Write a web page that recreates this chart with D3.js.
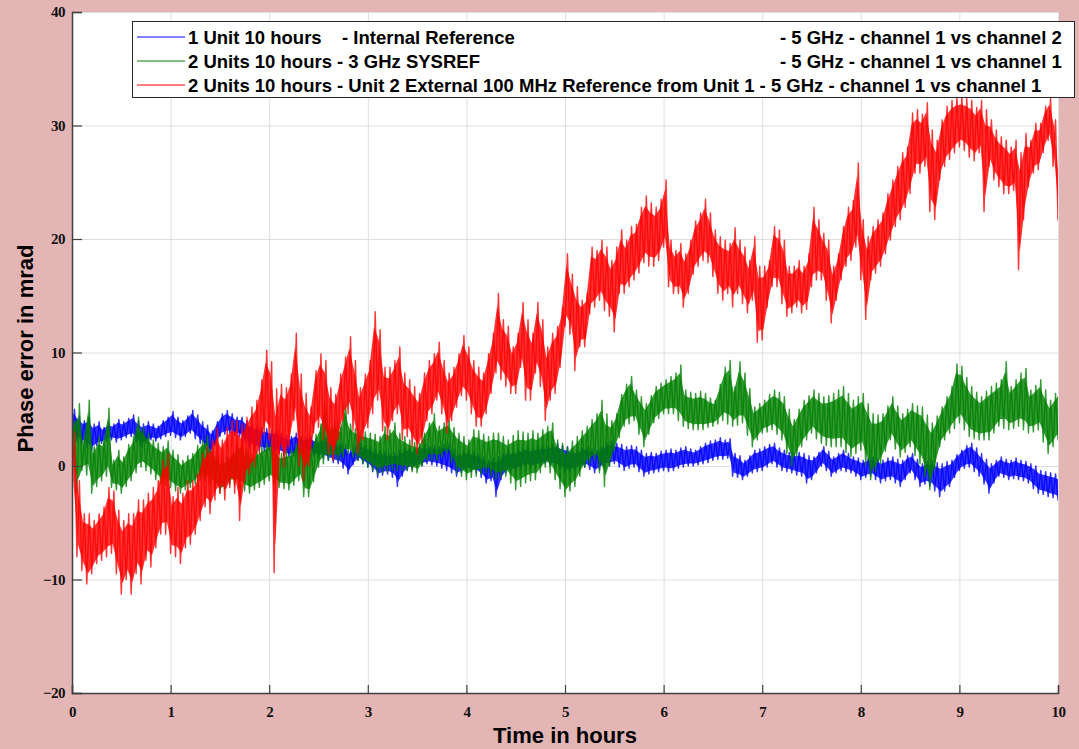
<!DOCTYPE html>
<html>
<head>
<meta charset="utf-8">
<script src="https://cdn.jsdelivr.net/npm/d3@7/dist/d3.min.js"></script>
<style>
  body { margin: 0; background: #e4b5b5; }
  svg { display: block; }
</style>
</head>
<body>
<div id="chart"></div>
<script>

/***** Data : lower / upper envelope of each trace, one sample every 0.05 h *****/
var step = 0.05

var blueLo = [
  2.5, 2.2, 2.0, 1.6, 1.4, 1.8, 2.0, 2.2, 2.3, 2.1,
  2.3, 2.5, 2.6, 2.1, 1.7, 2.0, 2.3, 2.2, 2.4, 2.6,
  2.7, 2.5, 2.3, 2.6, 2.9, 2.4, 2.0, 1.5, 1.1, 1.8,
  2.6, 2.8, 2.9, 2.7, 2.6, 2.1, 1.7, 1.5, 1.4, 1.3,
  1.4, 1.2, 1.1, 0.9, 0.8, 0.9, 0.8, 1.0, 1.1, 0.9,
  0.8, 0.7, 0.5, 0.3, 0.2, -0.2, -0.7, 0.1, 0.5, 0.2,
  -0.1, -0.5, -1.0, -0.8, -0.7, -1.0, -1.8, -0.9, -0.4, -0.3,
  -0.1, 0.0, 0.2, 0.1, 0.0, -0.2, -0.4, -0.6, -0.9, -0.6,
  -0.4, -0.5, -0.6, -1.0, -1.5, -1.3, -2.7, -1.2, -0.6, -0.5,
  -0.4, -0.2, -0.1, -0.2, -0.1, 0.0, 0.2, 0.0, -0.1, -0.3,
  -0.6, -0.5, -0.4, -0.2, -0.1, -0.3, -0.6, -0.3, -0.1, 0.0,
  0.2, -0.1, -0.4, -0.2, -0.1, -0.5, -0.9, -0.7, -0.6, -0.5,
  -0.4, -0.5, -0.4, -0.2, -0.1, 0.0, 0.0, 0.1, 0.2, 0.3,
  0.5, 0.6, 0.6, 0.7, -0.9, -1.0, -1.2, -0.9, -0.6, -0.5,
  -0.4, -0.1, 0.2, -0.1, -0.4, -0.5, -0.6, -0.8, -0.9, -1.5,
  -1.2, -0.6, 0.0, -0.4, -0.9, -0.6, -0.4, -0.5, -0.6, -0.9,
  -1.2, -1.0, -0.9, -1.2, -1.5, -1.3, -1.2, -1.5, -1.8, -1.2,
  -0.6, -1.2, -1.8, -1.6, -1.8, -2.2, -2.7, -2.2, -1.8, -1.0,
  -0.4, -0.2, -0.1, -0.5, -0.9, -1.6, -2.4, -1.5, -0.9, -1.0,
  -1.2, -1.1, -1.2, -1.3, -1.5, -2.0, -2.4, -2.5, -2.7, -2.8,
  -3.0
]
var blueHi = [
  5.0, 4.4, 4.0, 4.3, 3.7, 3.9, 3.4, 3.8, 3.7, 4.1,
  3.9, 4.2, 4.5, 4.0, 3.7, 3.9, 3.7, 3.5, 4.0, 4.3,
  4.8, 4.3, 4.0, 4.4, 4.9, 4.5, 3.9, 3.6, 3.1, 3.9,
  4.6, 4.9, 4.6, 4.3, 4.3, 4.0, 3.7, 3.5, 3.4, 3.3,
  3.1, 3.2, 2.9, 2.7, 2.6, 2.9, 2.6, 2.5, 2.6, 2.4,
  2.3, 2.5, 2.3, 2.1, 2.0, 1.9, 1.4, 1.8, 2.0, 1.8,
  1.7, 1.5, 1.4, 1.3, 1.1, 1.2, 1.4, 1.6, 1.7, 1.5,
  1.7, 1.9, 1.7, 1.8, 1.7, 1.9, 2.0, 1.5, 1.1, 1.3,
  1.4, 1.2, 1.1, 0.8, 0.5, 0.7, 0.8, 1.1, 1.4, 1.3,
  1.4, 1.6, 1.7, 1.5, 1.7, 1.8, 1.7, 1.9, 2.0, 1.8,
  1.7, 1.5, 1.4, 1.6, 1.7, 1.5, 1.4, 1.7, 2.0, 2.2,
  2.0, 1.9, 1.7, 1.8, 1.7, 1.4, 1.1, 1.2, 1.1, 1.3,
  1.4, 1.5, 1.4, 1.6, 1.7, 1.5, 1.4, 1.7, 2.0, 2.2,
  2.3, 2.5, 2.3, 2.4, 1.1, 0.9, 0.5, 0.9, 1.4, 1.5,
  1.7, 1.9, 2.0, 1.6, 1.4, 1.2, 1.1, 1.2, 1.1, 0.9,
  0.8, 1.2, 1.7, 1.3, 0.8, 1.1, 1.4, 1.1, 0.8, 0.7,
  0.5, 0.7, 0.8, 0.6, 0.5, 0.7, 0.8, 0.6, 0.5, 0.9,
  1.1, 0.6, 0.2, 0.4, 0.5, 0.3, 0.2, 0.4, 0.5, 1.0,
  1.4, 1.8, 2.0, 1.6, 1.1, 0.6, 0.2, 0.5, 0.8, 0.6,
  0.5, 0.7, 0.5, 0.4, 0.2, 0.0, -0.4, -0.5, -0.6, -0.7,
  -0.9
]

var greenLo = [
  0.0, -2.4, -0.4, -0.8, -2.4, -1.8, -1.3, -0.9, -1.9, -2.1,
  -2.4, -1.8, -1.3, -0.6, -0.1, -0.4, -0.7, -1.2, -1.6, -1.7,
  -1.9, -2.2, -2.4, -2.1, -1.9, -1.6, -1.3, -1.4, -1.6, -2.0,
  -2.4, -2.0, -1.6, -1.7, -1.9, -2.2, -2.4, -2.1, -1.9, -1.6,
  -1.3, -1.6, -1.9, -2.0, -2.1, -1.7, -1.3, -2.7, -2.7, -1.4,
  -0.1, 0.2, 0.5, 0.5, 0.5, 0.8, 1.1, 0.8, 0.5, 0.2,
  -0.1, -0.4, -0.7, -0.6, -0.5, -0.4, -0.4, -0.4, -0.4, -0.5,
  -0.6, 0.0, 0.5, 0.5, 0.5, 0.8, 1.1, 0.3, -0.6, -0.9,
  -1.2, -1.0, -0.9, -0.7, -0.6, -0.9, -1.2, -1.0, -0.9, -1.5,
  -2.1, -1.8, -1.5, -1.3, -1.2, -0.6, -0.1, -0.6, -1.2, -2.0,
  -2.7, -2.2, -1.8, -0.9, -0.1, 0.2, 0.5, -0.6, -1.8, 0.0,
  1.4, 2.5, 3.5, 3.7, 4.0, 2.8, 1.7, 2.8, 3.8, 4.2,
  4.6, 4.6, 4.6, 4.0, 3.5, 3.3, 3.2, 3.2, 3.2, 3.4,
  3.5, 3.7, 4.0, 3.7, 3.5, 3.6, 3.8, 2.7, 1.7, 2.3,
  2.9, 3.0, 3.2, 2.8, 2.3, 1.1, 0.0, 0.9, 1.7, 2.3,
  2.9, 2.4, 2.0, 1.8, 1.7, 1.7, 1.7, 1.2, 0.8, 1.1,
  1.4, 0.1, -1.2, -0.5, 0.2, 1.3, 2.3, 1.5, 0.8, 1.2,
  1.7, 0.9, 0.2, -1.0, -2.1, -0.2, 1.7, 2.3, 2.9, 3.3,
  3.8, 3.2, 2.6, 2.4, 2.3, 2.3, 2.3, 2.9, 3.5, 3.3,
  3.2, 3.3, 3.5, 3.2, 2.9, 3.0, 3.2, 2.1, 1.1, 1.7,
  2.3
]
var greenHi = [
  4.0, 5.5, 2.3, 5.8, 1.7, 2.6, 2.3, 5.1, 0.5, 1.4,
  0.8, 1.9, 2.6, 4.3, 3.4, 2.9, 2.3, 2.0, 1.7, 2.2,
  1.4, 1.0, 0.5, 0.9, 1.1, 1.8, 2.3, 2.7, 1.7, 1.2,
  0.5, 0.8, 1.1, 1.9, 2.3, 1.5, 1.1, 1.4, 1.7, 2.0,
  2.3, 1.6, 1.1, 1.3, 1.4, 2.0, 2.6, 2.2, 1.7, 2.8,
  3.7, 5.5, 3.4, 4.0, 3.4, 5.5, 3.7, 3.3, 3.1, 3.0,
  2.9, 2.8, 2.6, 3.5, 3.2, 3.8, 2.9, 2.6, 2.3, 2.1,
  2.0, 2.9, 3.8, 4.6, 3.5, 3.8, 4.0, 3.4, 2.9, 2.6,
  2.3, 3.2, 3.1, 2.8, 2.6, 2.9, 2.9, 2.6, 2.3, 2.7,
  3.1, 3.0, 2.9, 3.1, 2.9, 3.2, 3.5, 3.8, 2.3, 2.0,
  1.7, 2.2, 2.6, 3.1, 3.5, 4.1, 4.6, 5.8, 4.6, 4.0,
  4.6, 6.3, 7.2, 7.9, 6.7, 6.1, 5.5, 6.2, 7.0, 7.3,
  7.6, 7.9, 8.2, 8.9, 6.7, 6.5, 6.4, 6.6, 6.4, 6.0,
  5.8, 7.2, 8.7, 9.3, 7.0, 9.2, 8.2, 6.8, 5.2, 5.5,
  5.8, 6.3, 6.7, 6.5, 6.1, 5.0, 4.1, 5.0, 5.8, 6.2,
  6.7, 6.4, 6.1, 6.2, 6.4, 6.7, 7.0, 6.4, 5.8, 6.1,
  6.4, 5.5, 4.6, 4.5, 4.6, 5.3, 6.1, 5.3, 4.6, 5.0,
  5.5, 5.3, 5.2, 4.5, 3.8, 4.4, 5.2, 6.1, 7.0, 9.0,
  8.8, 7.8, 7.0, 6.5, 6.1, 6.6, 7.0, 7.3, 7.6, 9.2,
  7.0, 7.6, 8.2, 8.6, 6.7, 7.1, 7.6, 6.7, 5.8, 6.4,
  7.0
]

var redLo = [
  -2.0, -8.0, -9.2, -10.4, -9.5, -8.6, -8.3, -8.0, -7.7, -9.5,
  -11.3, -10.0, -11.3, -9.5, -10.4, -8.3, -8.9, -7.2, -6.0, -6.0,
  -7.7, -8.0, -8.6, -7.2, -6.9, -6.0, -4.8, -3.6, -4.2, -3.0,
  -2.4, -3.0, -1.9, -2.4, -4.8, -1.3, -0.7, -0.1, 1.1, 2.9,
  2.3, -9.4, 1.1, -0.1, 1.7, 4.0, 0.0, -1.3, 0.0, 2.9,
  3.4, 2.3, 1.1, 0.5, 2.3, 4.0, 4.6, 3.1, 1.1, 2.3,
  3.4, 4.6, 5.8, 3.1, 2.3, 4.0, 4.6, 2.3, 2.6, 1.7,
  1.1, 2.0, 4.0, 4.6, 5.8, 4.6, 2.9, 4.0, 5.2, 6.2,
  5.8, 4.6, 3.5, 3.5, 4.6, 6.4, 8.2, 7.6, 7.0, 6.4,
  6.4, 8.7, 5.8, 5.8, 8.2, 7.0, 4.0, 5.8, 6.4, 8.7,
  12.3, 11.6, 8.4, 10.5, 10.5, 13.4, 14.0, 14.6, 13.7, 13.2,
  11.8, 15.2, 15.2, 15.8, 16.4, 17.0, 17.9, 17.6, 17.6, 18.1,
  19.3, 15.8, 15.2, 15.2, 14.0, 15.2, 16.9, 17.6, 18.1, 17.9,
  16.7, 15.2, 14.6, 15.2, 14.0, 15.2, 14.3, 13.5, 14.6, 10.9,
  11.1, 14.0, 15.8, 15.8, 14.3, 13.2, 13.5, 14.0, 13.5, 13.8,
  15.8, 16.4, 16.4, 14.6, 12.6, 14.6, 16.4, 17.6, 18.1, 19.3,
  16.4, 12.9, 16.4, 17.0, 17.6, 18.7, 19.9, 21.1, 21.7, 22.8,
  24.0, 25.8, 25.8, 26.4, 22.4, 21.7, 25.2, 26.4, 27.0, 27.6,
  28.1, 27.8, 27.2, 26.9, 27.6, 22.4, 26.4, 25.2, 24.6, 24.0,
  24.0, 24.3, 17.3, 21.7, 24.6, 25.8, 26.1, 27.6, 28.7, 26.4,
  21.7
]
var redHi = [
  3.0, -1.3, -4.2, -4.2, -4.8, -4.2, -3.6, -1.9, -2.2, -3.9,
  -4.8, -4.2, -4.2, -3.0, -3.0, -2.4, -1.9, -1.3, 0.5, 1.1,
  -2.7, -1.9, -2.4, -1.3, -1.3, -0.7, 1.1, 1.7, 2.3, 3.4,
  2.3, 3.4, 4.0, 4.0, 3.7, 4.3, 5.2, 5.8, 7.6, 10.2,
  9.2, 6.8, 7.2, 6.9, 8.1, 11.7, 8.1, 6.4, 5.2, 8.4,
  9.9, 9.3, 6.9, 6.3, 8.1, 9.6, 11.4, 9.3, 6.9, 8.1,
  9.3, 13.6, 12.0, 8.7, 8.7, 9.3, 10.5, 8.2, 7.6, 7.0,
  6.4, 8.2, 9.3, 9.9, 10.9, 9.3, 8.2, 8.7, 9.9, 11.5,
  10.5, 9.3, 8.7, 8.2, 9.9, 11.7, 15.2, 12.9, 12.3, 10.5,
  11.7, 14.4, 12.9, 11.7, 14.4, 12.9, 10.5, 11.7, 12.3, 14.0,
  18.7, 16.9, 15.8, 14.6, 15.2, 19.3, 19.0, 19.9, 19.3, 18.1,
  19.3, 20.8, 19.9, 21.1, 21.3, 22.8, 23.8, 23.2, 22.8, 23.5,
  25.2, 19.9, 19.0, 19.6, 18.7, 19.9, 21.6, 22.3, 23.5, 22.3,
  20.8, 20.2, 19.9, 19.6, 21.0, 19.9, 19.3, 18.1, 20.2, 17.6,
  17.6, 18.1, 21.1, 20.8, 19.9, 17.6, 17.6, 18.1, 17.6, 18.7,
  22.8, 21.7, 20.5, 19.9, 17.6, 18.7, 21.1, 22.8, 23.4, 26.7,
  21.7, 20.2, 21.1, 21.7, 22.3, 24.0, 25.2, 26.4, 27.6, 28.1,
  31.1, 31.4, 31.0, 32.0, 29.6, 28.7, 30.5, 31.7, 32.2, 32.5,
  32.5, 32.4, 32.2, 31.6, 32.2, 31.4, 30.5, 29.6, 29.0, 28.7,
  28.1, 28.7, 27.6, 29.3, 28.7, 30.2, 30.2, 31.7, 32.4, 30.5,
  25.2
]

var xTicks = [0, 1, 2, 3, 4, 5, 6, 7, 8, 9, 10]
var yTicks = [-20, -10, 0, 10, 20, 30, 40]

var seriesNames = ["blue", "green", "red"]
var seriesColors = ["#0000ff", "#008000", "#ff0000"]

// legend rows : pieces of text and the x where each piece starts
var legendRows = [
  [["1 Unit 10 hours", 188], ["- Internal Reference", 342], ["- 5 GHz - channel 1 vs channel 2", 780]],
  [["2 Units 10 hours - 3 GHz SYSREF", 188], ["- 5 GHz - channel 1 vs channel 1", 780]],
  [["2 Units 10 hours - Unit 2 External 100 MHz Reference from Unit 1 - 5 GHz - channel 1 vs channel 1", 188]]
]

;(function () {

  /***** Configuration *****/
  var margin = { top: 12, right: 21, bottom: 56, left: 72 }
  var width = 1079 - margin.left - margin.right
  var height = 749 - margin.top - margin.bottom

  var svg = d3.select("#chart")
    .append("svg")
    .attr("width", 1079)
    .attr("height", 749)

  var x = d3.scaleLinear().domain([0, 10]).range([0, width])
  var y = d3.scaleLinear().domain([-20, 40]).range([height, 0])

  var g = svg.append("g")
    .attr("transform", "translate(" + margin.left + "," + margin.top + ")")

  g.append("rect")
    .attr("width", width)
    .attr("height", height)
    .attr("fill", "#ffffff")

  /***** Grid *****/
  g.append("g")
    .attr("transform", "translate(0," + height + ")")
    .call(d3.axisBottom(x).tickValues(xTicks).tickSize(-height).tickFormat(""))
    .call(sel => sel.select(".domain").remove())
    .selectAll("line").attr("stroke", "#dedede")

  g.append("g")
    .call(d3.axisLeft(y).tickValues(yTicks).tickSize(-width).tickFormat(""))
    .call(sel => sel.select(".domain").remove())
    .selectAll("line").attr("stroke", "#dedede")

  /***** Traces *****/
  g.append("clipPath").attr("id", "plot-clip")
    .append("rect").attr("width", width).attr("height", height)

  // each trace : a band between the envelopes, and a zigzag running lo -> hi -> lo ...
  function envelope(lo, hi) {
    return lo.map((v, i) => ({ t: i * step, lo: v, hi: hi[i] }))
  }

  function zigzag(lo, hi) {
    var pts = []
    lo.forEach(function (v, i) {
      pts.push([i * step, v])
      pts.push([i * step + step / 2, hi[i]])
    })
    return pts
  }

  var bands = [envelope(blueLo, blueHi), envelope(greenLo, greenHi), envelope(redLo, redHi)]
  var traces = [zigzag(blueLo, blueHi), zigzag(greenLo, greenHi), zigzag(redLo, redHi)]

  var area = d3.area()
    .x(d => x(d.t + step / 4))
    .y0(d => y(d.lo + (d.hi - d.lo) * 0.15))
    .y1(d => y(d.hi - (d.hi - d.lo) * 0.15))

  var line = d3.line()
    .x(d => x(d[0]))
    .y(d => y(d[1]))

  var traceGroup = g.append("g").attr("clip-path", "url(#plot-clip)")

  seriesNames.forEach(function (name, i) {
    var sg = traceGroup.append("g").attr("class", "trace " + name)

    sg.append("path")
      .datum(bands[i])
      .attr("d", area)
      .attr("fill", seriesColors[i])
      .attr("fill-opacity", 0.8)

    sg.append("path")
      .datum(traces[i])
      .attr("d", line)
      .attr("fill", "none")
      .attr("stroke", seriesColors[i])
      .attr("stroke-width", 1.4)
      .attr("stroke-opacity", 0.8)
      .attr("stroke-linejoin", "round")
  })

  /***** Axes *****/
  var tickFont = "'Liberation Serif', 'DejaVu Serif', serif"

  var xAxis = g.append("g")
    .attr("transform", "translate(0," + height + ")")
    .call(d3.axisBottom(x).tickValues(xTicks).tickSize(-8).tickPadding(13).tickFormat(d3.format("d")))

  var yAxis = g.append("g")
    .call(d3.axisLeft(y).tickValues(yTicks).tickSize(-10).tickPadding(7).tickFormat(d3.format("d")))

  ;[xAxis, yAxis].forEach(function (ax) {
    ax.select(".domain").attr("stroke", "#404040").attr("stroke-width", 1.5)
    ax.selectAll(".tick line").attr("stroke", "#404040").attr("stroke-width", 1.2)
    ax.selectAll(".tick text")
      .attr("fill", "#111")
      .style("font-family", tickFont)
      .style("font-weight", "bold")
      .style("font-size", "15px")
      .style("letter-spacing", "-0.5px")
  })

  svg.append("text")
    .attr("x", margin.left + width / 2)
    .attr("y", 743)
    .attr("text-anchor", "middle")
    .style("font-family", "'Liberation Sans', Arial, sans-serif")
    .style("font-weight", "bold")
    .style("font-size", "22px")
    .attr("fill", "#000")
    .text("Time in hours")

  svg.append("text")
    .attr("transform", "translate(33," + (margin.top + height / 2 - 4) + ") rotate(-90)")
    .attr("text-anchor", "middle")
    .style("font-family", "'Liberation Sans', Arial, sans-serif")
    .style("font-weight", "bold")
    .style("font-size", "22px")
    .attr("fill", "#000")
    .text("Phase error in mrad")

  /***** Legend *****/
  var legend = svg.append("g").attr("class", "legend")

  legend.append("rect")
    .attr("x", 132.5)
    .attr("y", 21.5)
    .attr("width", 942)
    .attr("height", 76)
    .attr("fill", "#ffffff")
    .attr("stroke", "#262626")
    .attr("stroke-width", 1)

  var rows = legend.selectAll("g.row")
    .data(legendRows)
    .join("g")
    .attr("class", "row")
    .attr("transform", (d, i) => "translate(0," + (37 + i * 24) + ")")

  rows.append("line")
    .attr("x1", 137)
    .attr("x2", 185)
    .attr("stroke", (d, i) => seriesColors[i])
    .attr("stroke-opacity", 0.5)
    .attr("stroke-width", 2)

  rows.selectAll("text")
    .data(d => d)
    .join("text")
    .attr("x", d => d[1])
    .attr("y", 6.5)
    .style("font-family", "'Liberation Sans', Arial, sans-serif")
    .style("font-weight", "bold")
    .style("font-size", "18.5px")
    .attr("fill", "#000")
    .text(d => d[0])

})()
</script>
</body>
</html>
